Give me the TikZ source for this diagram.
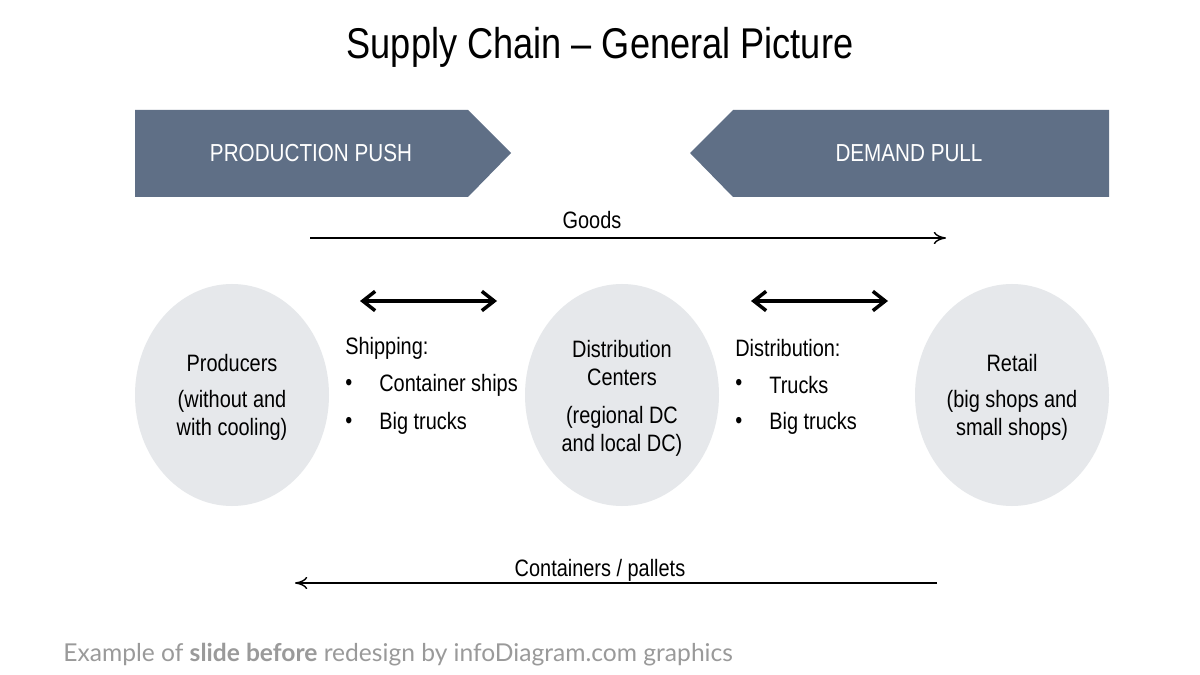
\documentclass[tikz,border=0pt]{standalone}
\usepackage{fontspec}
\setmainfont{Liberation Sans}[FakeStretch=0.84]
\newfontfamily\footfont{Lato}
\usetikzlibrary{arrows.meta}
\definecolor{banner}{HTML}{5F6F86}
\definecolor{ell}{HTML}{E6E8EB}
\definecolor{foot}{HTML}{9A9A9A}
\begin{document}
\begin{tikzpicture}[x=0.02cm,y=-0.02cm,
  txt/.style={font=\fontsize{13.5pt}{17pt}\selectfont, align=center, inner sep=0},
  ltxt/.style={font=\fontsize{13.5pt}{17pt}\selectfont, anchor=west, inner sep=0},
  thin/.style={-{To[length=7pt,width=7pt]}, line width=0.8pt},
  dbl/.style={{Straight Barb[length=7pt,width=11pt]}-{Straight Barb[length=7pt,width=11pt]}, line width=2pt}]
\useasboundingbox (0,0) rectangle (1200,675);
\fill[white] (0,0) rectangle (1200,675);
\node[inner sep=0, font=\fontsize{24.5pt}{28pt}\selectfont] (title) at (600,47) {Supply Chain -- General Picture};
\fill[banner] (135,110) -- (468,110) -- (511,153) -- (468,197) -- (135,197) -- cycle;
\fill[banner] (1109,110) -- (733,110) -- (690,153) -- (733,197) -- (1109,197) -- cycle;
\node[txt, text=white, font=\fontsize{14pt}{16pt}\selectfont] (push) at (311,153) {PRODUCTION PUSH};
\node[txt, text=white, font=\fontsize{14pt}{16pt}\selectfont] (pull) at (909,153) {DEMAND PULL};
\coordinate (g1) at (310,238); \coordinate (g2) at (946,238);
\draw[thin] (g1) -- (g2);
\node[txt] (goods) at (592,220) {Goods};
\fill[ell] (232,395) ellipse [x radius=97, y radius=111];
\fill[ell] (622,395) ellipse [x radius=97, y radius=111];
\fill[ell] (1012,395) ellipse [x radius=97, y radius=111];
\node[txt] (prod) at (232,363) {Producers};
\node[txt] (prod2) at (232,415) {(without and\\[-1pt]with cooling)};
\node[txt] (dc) at (622,363) {Distribution\\[-1pt]Centers};
\node[txt] (dc2) at (622,431) {(regional DC\\[-1pt]and local DC)};
\node[txt] (ret) at (1012,363) {Retail};
\node[txt] (ret2) at (1012,415) {(big shops and\\[-1pt]small shops)};
\coordinate (a1) at (360,301); \coordinate (a2) at (497,301);
\coordinate (b1) at (751,301); \coordinate (b2) at (888,301);
\draw[dbl] (a1) -- (a2);
\draw[dbl] (b1) -- (b2);
\node[ltxt] (ship) at (345,348) {Shipping:};
\node[ltxt] at (345,385) {\textbullet}; \node[ltxt] (s1) at (379,385) {Container ships};
\node[ltxt] at (345,423) {\textbullet}; \node[ltxt] (s2) at (379,423) {Big trucks};
\node[ltxt] (dist) at (735,348) {Distribution:};
\node[ltxt] at (735,385) {\textbullet}; \node[ltxt] (d1) at (769,385) {Trucks};
\node[ltxt] at (735,423) {\textbullet}; \node[ltxt] (d2) at (769,423) {Big trucks};
\coordinate (c1) at (937,583); \coordinate (c2) at (295,583);
\draw[thin] (c1) -- (c2);
\node[txt] (cont) at (600,570) {Containers / pallets};
\node[anchor=west, inner sep=0, text=foot, font=\footfont\fontsize{14pt}{16pt}\selectfont] (foot) at (63,655) {Example of \textbf{slide before} redesign by infoDiagram.com graphics};
\end{tikzpicture}
\end{document}
